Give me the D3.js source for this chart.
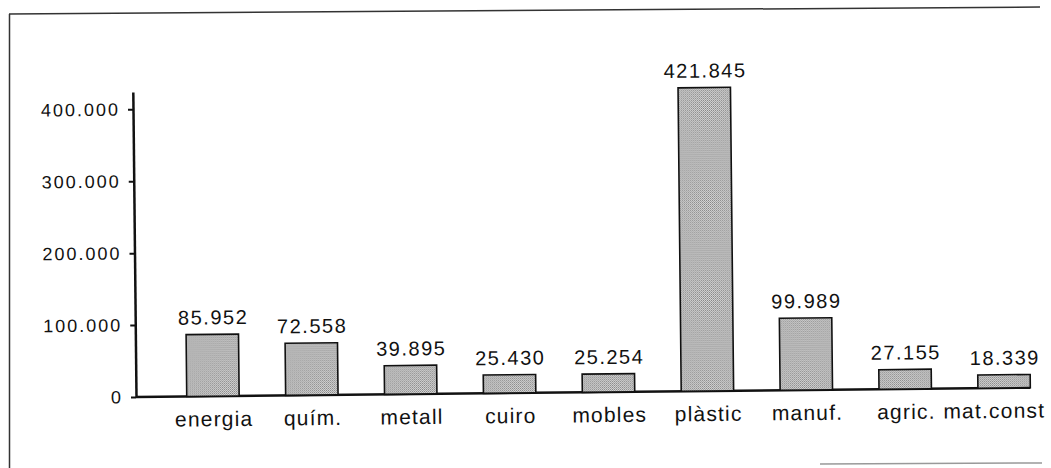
<!DOCTYPE html>
<html>
<head>
<meta charset="utf-8">
<script src="https://cdn.jsdelivr.net/npm/d3@7"></script>
<style>
  body { margin: 0; background: #fff; }
  text { font-family: "Liberation Sans", Arial, Helvetica, sans-serif; fill: #111; }
</style>
</head>
<body>
<div id="chart"></div>
<script>
// Data
const categories = ["energia", "quím.", "metall", "cuiro", "mobles", "plàstic", "manuf.", "agric.", "mat.const"];
const values = [85952, 72558, 39895, 25430, 25254, 421845, 99989, 27155, 18339];
const yTicks = [0, 100000, 200000, 300000, 400000];

const data = categories.map((c, i) => ({ category: c, value: values[i] }));

const W = 1051, H = 468;
const axisX = 136, baseY = 397, axisTop = 92;

// catalan number format: 400.000
const locale = d3.formatLocale({ decimal: ",", thousands: ".", grouping: [3], currency: ["", ""] });
const fmt = locale.format(",d");

const svg = d3.select("#chart")
  .append("svg")
    .attr("width", W)
    .attr("height", H);

// stipple pattern for the bars
const pat = svg.append("defs").append("pattern")
  .attr("id", "dots")
  .attr("width", 2).attr("height", 2)
  .attr("patternUnits", "userSpaceOnUse");
pat.append("rect").attr("width", 2).attr("height", 2).attr("fill", "#d6d6d6");
pat.append("rect").attr("width", 1).attr("height", 1).attr("fill", "#848484");
pat.append("rect").attr("x", 1).attr("y", 1).attr("width", 1).attr("height", 1).attr("fill", "#a0a0a0");

// scanned page frame
svg.append("line").attr("x1", 9.5).attr("y1", 14).attr("x2", 9.5).attr("y2", H)
  .attr("stroke", "#333").attr("stroke-width", 1.5);
svg.append("line").attr("x1", 9).attr("y1", 14).attr("x2", 1040).attr("y2", 7)
  .attr("stroke", "#333").attr("stroke-width", 1.5);
svg.append("line").attr("x1", 820).attr("y1", 464).attr("x2", 1042).attr("y2", 463)
  .attr("stroke", "#999").attr("stroke-width", 1.5);

// the scan is slightly tilted
const g = svg.append("g")
  .attr("transform", `rotate(-0.6, ${axisX}, ${baseY})`);

const x = d3.scaleBand()
  .domain(categories)
  .range([163.5, 1053.6])
  .padding(0);
const barW = x.bandwidth() * 0.53;

const y = d3.scaleLinear()
  .domain([0, 424000])
  .range([baseY, axisTop]);

// y axis
const yAxis = g.append("g")
  .attr("transform", `translate(${axisX},0)`)
  .call(d3.axisLeft(y).tickValues(yTicks).tickFormat(fmt).tickSize(5).tickPadding(8).tickSizeOuter(0));
yAxis.select(".domain").attr("stroke", "#111").attr("stroke-width", 2.5);
yAxis.selectAll(".tick line").attr("stroke", "#111").attr("stroke-width", 2);
yAxis.selectAll(".tick text")
  .style("font-family", '"Liberation Sans", Arial, sans-serif')
  .style("font-size", "18px")
  .style("letter-spacing", "2px")
  .attr("fill", "#111");

// baseline
g.append("line")
  .attr("x1", axisX).attr("x2", x(categories[categories.length - 1]) + x.bandwidth() / 2 + barW / 2)
  .attr("y1", y(0)).attr("y2", y(0))
  .attr("stroke", "#111").attr("stroke-width", 2.5);

// bars
g.selectAll(".bar")
  .data(data)
  .enter().append("rect")
  .attr("class", "bar")
  .attr("x", d => x(d.category) + x.bandwidth() / 2 - barW / 2)
  .attr("y", d => y(d.value))
  .attr("width", barW)
  .attr("height", d => y(0) - y(d.value))
  .attr("fill", "url(#dots)")
  .attr("stroke", "#111")
  .attr("stroke-width", 1.6);

// value labels
g.selectAll(".val")
  .data(data)
  .enter().append("text")
  .attr("class", "val")
  .attr("x", d => x(d.category) + x.bandwidth() / 2 + 1)
  .attr("y", d => y(d.value) - 10)
  .attr("text-anchor", "middle")
  .style("font-size", "20px")
  .style("letter-spacing", "1.5px")
  .text(d => fmt(d.value));

// category labels, the last one is pulled in so it stays on the page
g.selectAll(".cat")
  .data(data)
  .enter().append("text")
  .attr("class", "cat")
  .attr("y", y(0) + 30)
  .attr("text-anchor", "middle")
  .style("font-size", "21px")
  .style("letter-spacing", "1.2px")
  .text(d => d.category)
  .attr("x", function (d) {
    const cx = x(d.category) + x.bandwidth() / 2 + 1;
    const half = this.getComputedTextLength() / 2;
    return Math.min(cx, W - 6 - half);
  });
</script>
</body>
</html>
